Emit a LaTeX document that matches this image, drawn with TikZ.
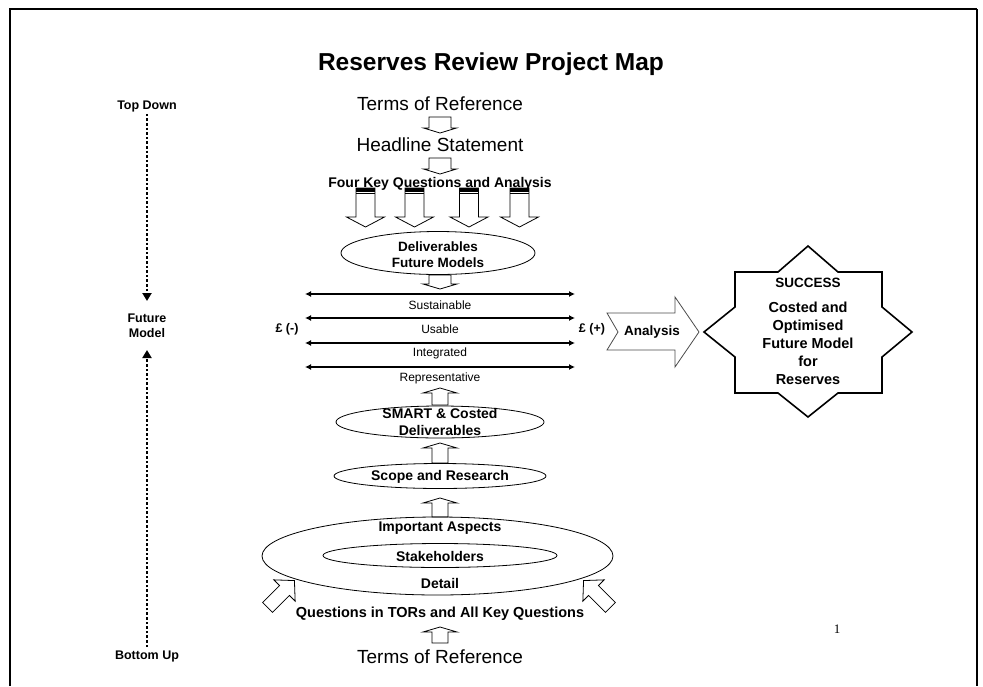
\documentclass[tikz,border=0pt]{standalone}
\usepackage{fontspec}
\setmainfont{Liberation Sans}
\newfontfamily\serifnum{Liberation Serif}
\usetikzlibrary{arrows.meta}
% hollow block arrows: x, y-start, y-tip, shaft half width, head half width, head height
\newcommand{\bkdown}[6]{\draw[hollow] (#1-#4,#2) -- (#1+#4,#2) -- (#1+#4,#3-#6) -- (#1+#5,#3-#6) -- (#1,#3) -- (#1-#5,#3-#6) -- (#1-#4,#3-#6) -- cycle;}
\newcommand{\bkup}[6]{\draw[hollow] (#1-#4,#2) -- (#1-#4,#3+#6) -- (#1-#5,#3+#6) -- (#1,#3) -- (#1+#5,#3+#6) -- (#1+#4,#3+#6) -- (#1+#4,#2) -- cycle;}
\newcommand{\kqarrow}[1]{\bkdown{#1}{188}{227}{9.5}{19}{10}
  \fill[black] (#1-9.5,188) rectangle (#1+9.5,191.5);
  \draw[black, line width=0.8pt] (#1-9.5,193.5) -- (#1+9.5,193.5);}
\begin{document}
\begin{tikzpicture}[x=1pt,y=-1pt,
  hollow/.style={draw=black, line width=0.8pt, fill=white, line join=miter},
  ttl/.style={font=\bfseries\fontsize{24.5}{27}\selectfont},
  big/.style={font=\fontsize{19}{22}\selectfont, inner sep=0pt},
  lbl/.style={font=\bfseries\fontsize{14}{16.5}\selectfont, align=center, inner sep=0pt},
  small/.style={font=\bfseries\fontsize{12.5}{14.5}\selectfont, align=center, inner sep=0pt},
  band/.style={font=\fontsize{12}{14}\selectfont, inner sep=0pt},
  dline/.style={line width=1.8pt, {Latex[length=6pt,width=6pt]}-{Latex[length=6pt,width=6pt]}},
  dots/.style={line width=2.6pt, dash pattern=on 2.6pt off 2pt, -{Triangle[length=8pt,width=9pt]}},
  ell/.style={draw=black, line width=0.8pt}
]
\useasboundingbox (0,0) rectangle (983,686);
% frame
\draw[line width=1.2pt] (10,686) -- (10,9) -- (977,9);
\draw[line width=1.8pt] (977,9) -- (977,686);

% title
\node[ttl] (title) at (491,64) {Reserves Review Project Map};

% left scale
\node[small] (td) at (147,106) {Top Down};
\node[small] (fm) at (147,326) {Future\\Model};
\node[small] (bu) at (147,656) {Bottom Up};
\coordinate (tdend) at (147,301);
\coordinate (buend) at (147,350);
\draw[dots] (td.south) ++(0,2) -- (tdend);
\draw[dots] (bu.north) ++(0,-3) -- (buend);

% top-down chain
\node[big] (tor1) at (440,104) {Terms of Reference};
\bkdown{440}{117}{133}{11}{16.5}{5}
\node[big] (hs) at (440,145) {Headline Statement};
\bkdown{440}{158}{174}{11}{16.5}{5}
\node[lbl] (fk) at (440,184) {Four Key Questions and Analysis};
\kqarrow{365.5}
\kqarrow{414.5}
\kqarrow{469}
\kqarrow{519.5}

% deliverables ellipse
\draw[ell] (438,253) ellipse [x radius=97, y radius=21.5];
\node[lbl, font=\bfseries\fontsize{13.5}{16}\selectfont] (del) at (438,254.5) {Deliverables\\Future Models};
\bkdown{440}{275}{289}{11}{17}{5}

% horizontal bands
\coordinate (a1) at (305,294); \coordinate (b1) at (575,294);
\coordinate (a2) at (305,318); \coordinate (b2) at (575,318);
\coordinate (a3) at (305,343); \coordinate (b3) at (575,343);
\coordinate (a4) at (305,367); \coordinate (b4) at (575,367);
\draw[dline] (a1) -- (b1);
\draw[dline] (a2) -- (b2);
\draw[dline] (a3) -- (b3);
\draw[dline] (a4) -- (b4);
\node[band] (sus) at (440,305) {Sustainable};
\node[band] (usa) at (440,329.5) {Usable};
\node[band] (int) at (440,353.5) {Integrated};
\node[band] (rep) at (440,378) {Representative};
\node[small] (pm) at (287,329) {£ (-)};
\node[small] (pp) at (592,329) {£ (+)};

% analysis arrow
\draw[draw=black!70, line width=0.8pt, fill=white] (607,313) -- (675,313) -- (675,297) -- (699,332) -- (675,367) -- (675,350) -- (607,350) -- (618,332) -- cycle;
\node[lbl, font=\bfseries\fontsize{13.5}{16}\selectfont] (ana) at (652,332) {Analysis};

% success star
\draw[line width=1.6pt, line join=miter] (808,246) -- (838,272) -- (882,272) -- (882,307) -- (912,332) -- (882,357) -- (882,393) -- (838,393) -- (808,417) -- (778,393) -- (735,393) -- (735,357) -- (704,332) -- (735,307) -- (735,272) -- (778,272) -- cycle;
\node[lbl, font=\bfseries\fontsize{13.5}{16}\selectfont] (succ) at (808,283) {SUCCESS};
\node[lbl, font=\bfseries\fontsize{14.5}{18}\selectfont] (cost) at (808,343) {Costed and\\Optimised\\Future Model\\for\\Reserves};

% bottom-up chain
\bkup{440}{405}{388}{8}{17}{5}
\draw[ell] (440,422) ellipse [x radius=104, y radius=16];
\node[lbl] (smart) at (440,422) {SMART \& Costed\\Deliverables};
\bkup{440}{463}{443}{8}{17}{5}
\draw[ell] (440,476) ellipse [x radius=106, y radius=12.5];
\node[lbl] (scope) at (440,476.5) {Scope and Research};
\bkup{440}{517}{498}{8}{17}{5}
\draw[ell] (437.5,556) ellipse [x radius=175.5, y radius=39];
\node[lbl] (imp) at (440,528.5) {Important Aspects};
\draw[ell] (440,555.5) ellipse [x radius=117, y radius=12];
\node[lbl] (stk) at (440,556) {Stakeholders};
\node[lbl] (det) at (440,583.5) {Detail};
\begin{scope}[shift={(281,594)}, rotate=-45]
  \draw[hollow] (-7,19) -- (-7,-5) -- (-15,-5) -- (0,-19) -- (15,-5) -- (7,-5) -- (7,19) -- cycle;
\end{scope}
\begin{scope}[shift={(597,594)}, rotate=45]
  \draw[hollow] (-7,19) -- (-7,-5) -- (-15,-5) -- (0,-19) -- (15,-5) -- (7,-5) -- (7,19) -- cycle;
\end{scope}
\node[lbl, font=\bfseries\fontsize{14.5}{17}\selectfont] (qs) at (440,613.5) {Questions in TORs and All Key Questions};
\bkup{440}{643}{627}{8}{17}{5}
\node[big] (tor2) at (440,657) {Terms of Reference};

% page number
\node[font=\serifnum\fontsize{13}{15}\selectfont, inner sep=0pt] (pg) at (837,629) {1};
\end{tikzpicture}
\end{document}
